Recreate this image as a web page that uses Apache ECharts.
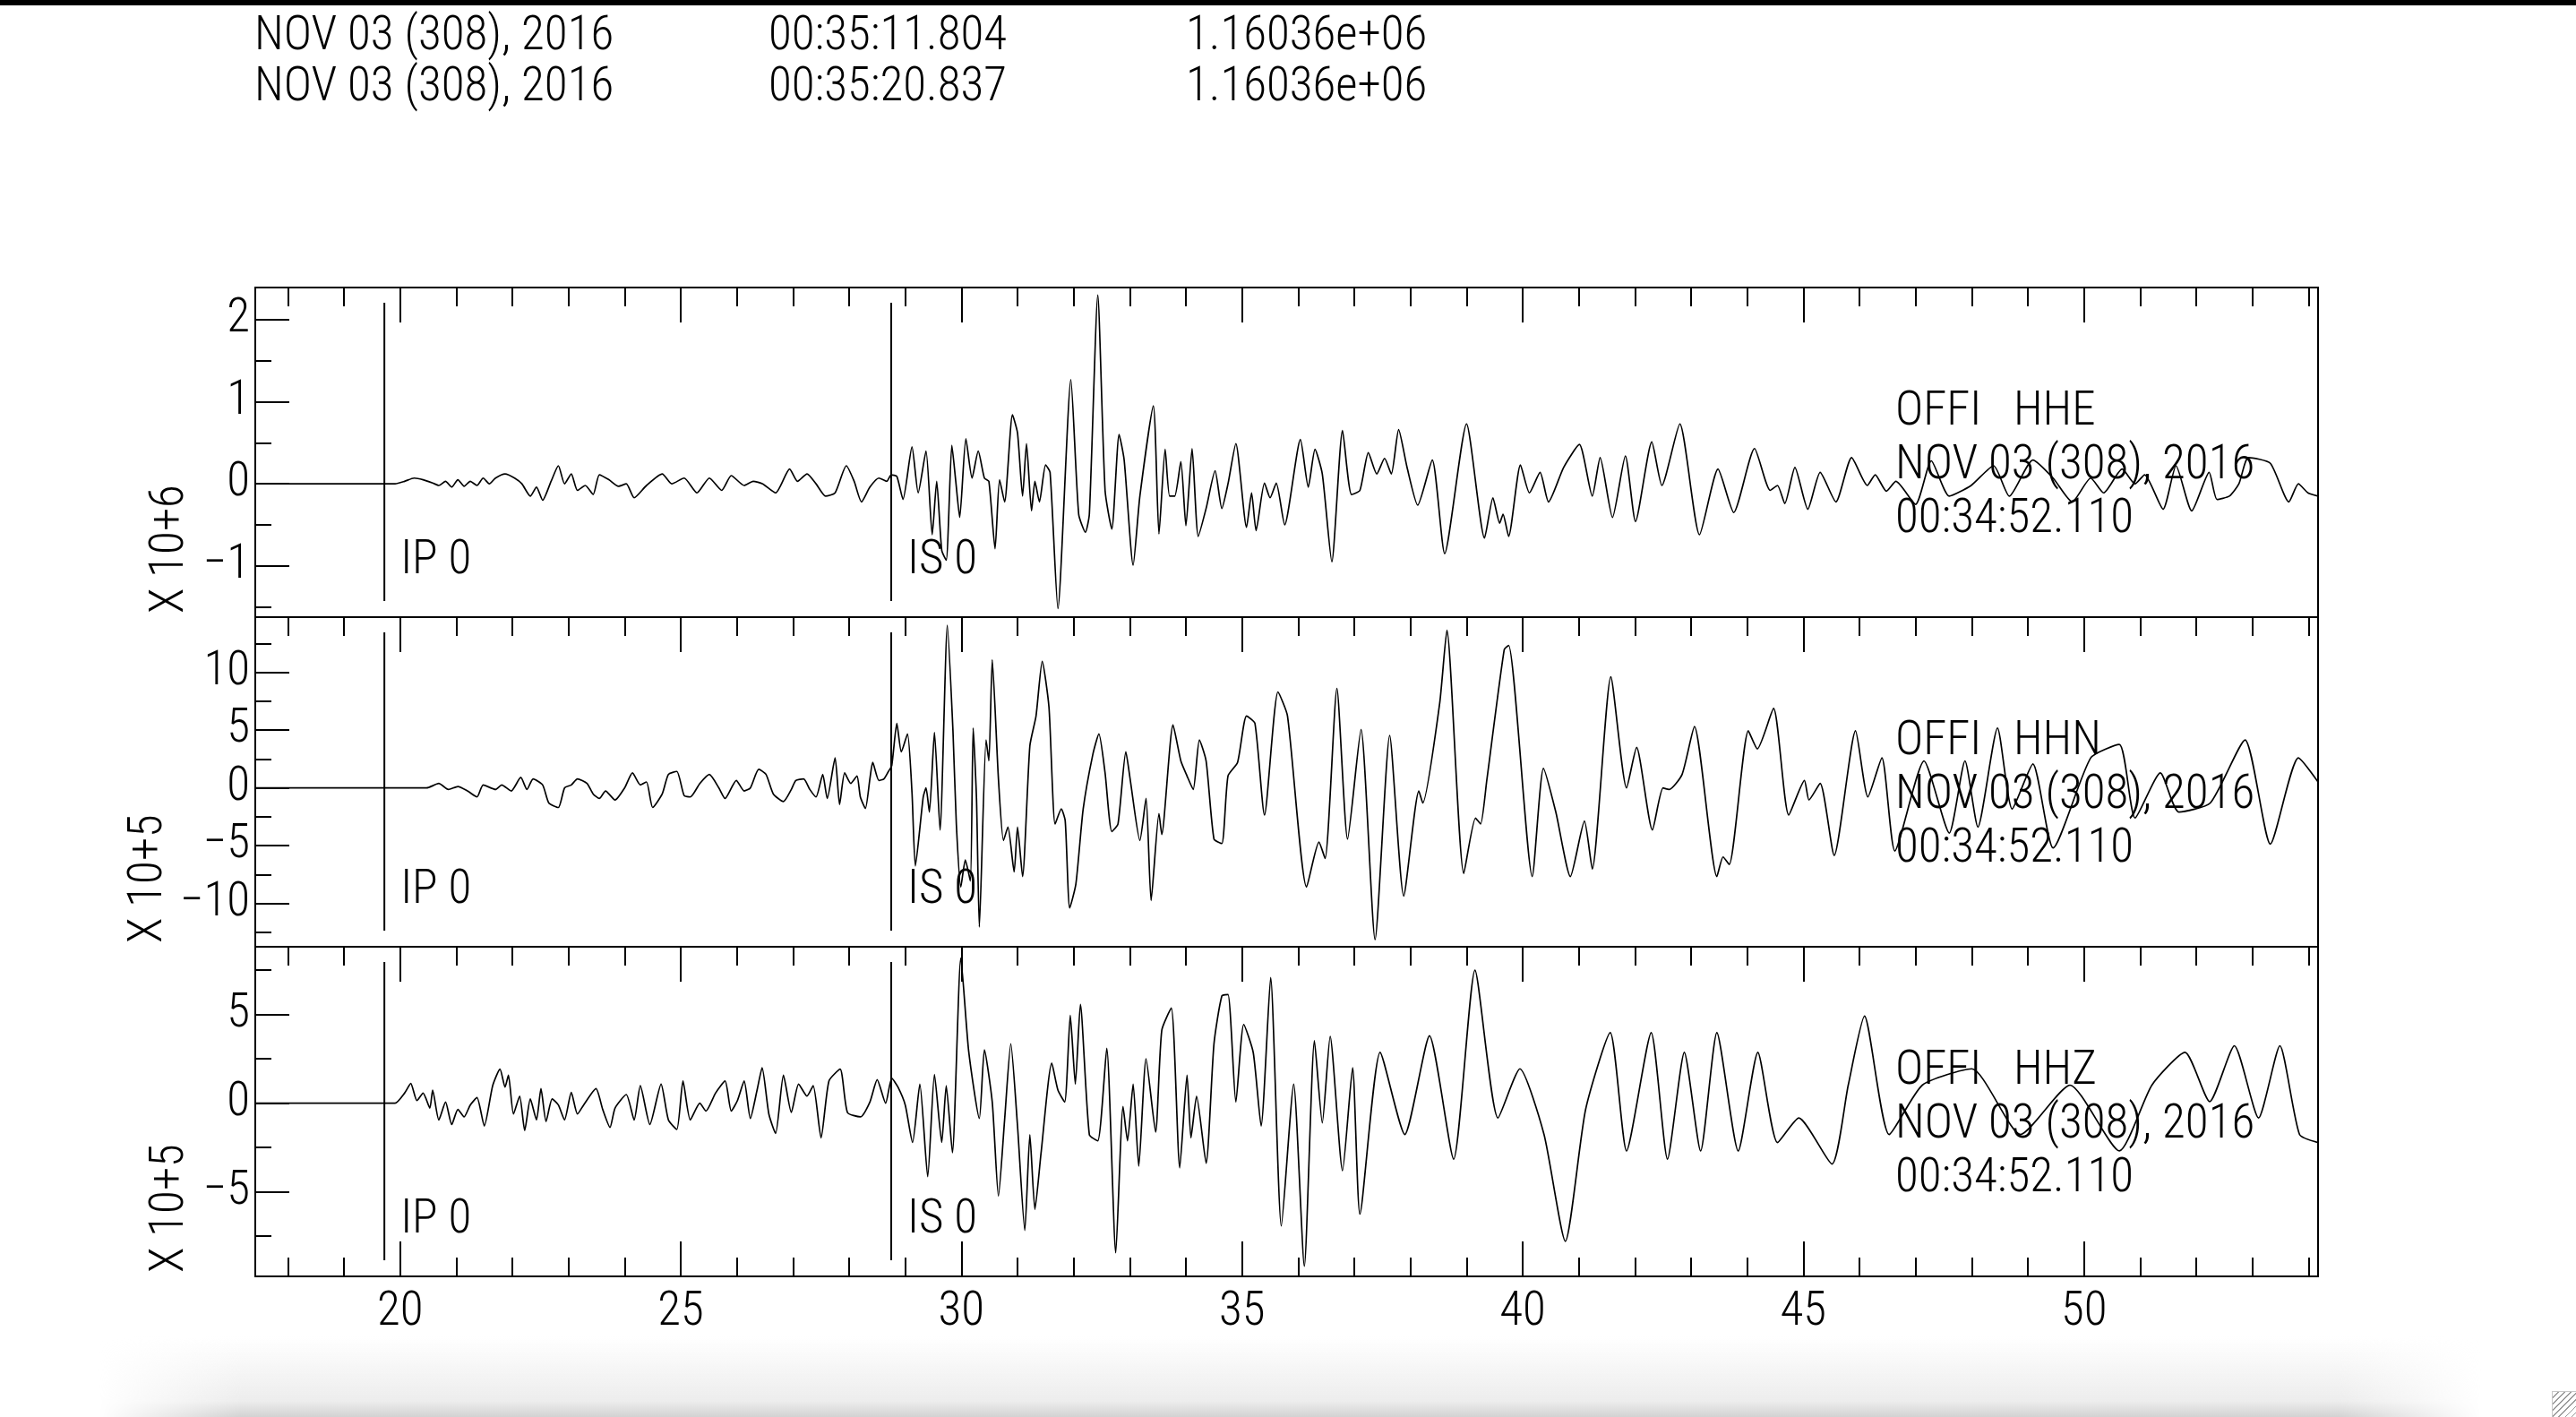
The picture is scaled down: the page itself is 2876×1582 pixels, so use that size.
<!DOCTYPE html>
<html><head><meta charset="utf-8">
<script src="https://cdn.jsdelivr.net/npm/echarts@6/dist/echarts.min.js"></script>
<style>
html,body{margin:0;padding:0;background:#fff;overflow:hidden}
#chart{position:absolute;left:0;top:0;width:2876px;height:1582px}
#topbar{position:absolute;left:0;top:0;width:2876px;height:6px;background:#000}
#bottomshade{position:absolute;left:110px;bottom:0;width:2660px;height:90px;
 background:linear-gradient(to bottom,rgba(236,236,236,0),#ededed 80%,#d2d2d2);
 -webkit-mask-image:linear-gradient(to right,transparent,#000 6%,#000 94%,transparent);
 mask-image:linear-gradient(to right,transparent,#000 6%,#000 94%,transparent)}
#grip{position:absolute;right:0;bottom:0;width:26px;height:28px;border:1px solid #c8c8c8;border-right:none;border-bottom:none;
 background:repeating-linear-gradient(135deg,#fff 0 4px,#9a9a9a 4px 5px)}
</style></head><body>
<div id="chart"></div><div id="topbar"></div><div id="bottomshade"></div><div id="grip"></div>
<script>
// ---------- data (time in s, amplitude in axis units) ----------
const headerRow1 = ['NOV 03 (308), 2016', '00:35:11.804', '1.16036e+06'];
const headerRow2 = ['NOV 03 (308), 2016', '00:35:20.837', '1.16036e+06'];
const stationHHE = ['OFFI   HHE', 'NOV 03 (308), 2016', '00:34:52.110'];
const stationHHN = ['OFFI   HHN', 'NOV 03 (308), 2016', '00:34:52.110'];
const stationHHZ = ['OFFI   HHZ', 'NOV 03 (308), 2016', '00:34:52.110'];
const scaleLabels = ['X 10+6', 'X 10+5', 'X 10+5'];
const pickNames = ['IP 0', 'IS 0'];
const pickTimes = [19.72, 28.75];
const xMajorTicks = [20, 25, 30, 35, 40, 45, 50];
const xMinorTicks = [18,19,21,22,23,24,26,27,28,29,31,32,33,34,36,37,38,39,41,42,43,44,46,47,48,49,51,52,53,54];
const yMajorHHE = [-1, 0, 1, 2];
const yMinorHHE = [-1.5, -0.5, 0.5, 1.5];
const yMajorHHN = [-10, -5, 0, 5, 10];
const yMinorHHN = [-12.5, -7.5, -2.5, 2.5, 7.5, 12.5];
const yMajorHHZ = [-5, 0, 5];
const yMinorHHZ = [-7.5, -2.5, 2.5, 7.5];

const traceHHE = [
[17.42,0],[19.57,0],[19.91,0],[20.08,0.03],[20.25,0.07],[20.41,0.05],[20.58,0.01],[20.69,-0.02],[20.81,0.03],[20.92,-0.04],
[21.03,0.05],[21.14,-0.03],[21.25,0.03],[21.37,-0.02],[21.48,0.07],[21.59,0],[21.70,0.07],[21.87,0.12],[22.04,0.07],[22.17,0],
[22.32,-0.15],[22.43,-0.04],[22.54,-0.2],[22.69,0.03],[22.82,0.22],[22.93,0],[23.05,0.12],[23.16,-0.08],[23.30,-0.02],[23.44,-0.13],
[23.55,0.11],[23.72,0.05],[23.89,-0.03],[24.03,0],[24.17,-0.17],[24.39,-0.02],[24.67,0.12],[24.84,0],[25.06,0.07],[25.29,-0.11],
[25.51,0.07],[25.73,-0.08],[25.90,0.1],[26.13,-0.02],[26.29,0.03],[26.46,0],[26.69,-0.11],[26.94,0.18],[27.08,0.03],[27.25,0.12],
[27.41,0],[27.58,-0.15],[27.75,-0.11],[27.95,0.22],[28.09,0.03],[28.22,-0.22],[28.37,-0.04],[28.53,0.07],[28.67,0.03],[28.75,0.11],
[28.85,0.09],[28.96,-0.19],[29.12,0.45],[29.23,-0.11],[29.37,0.40],[29.48,-0.62],[29.56,0.03],[29.65,-0.81],[29.73,-0.93],[29.83,0.47],
[29.90,0.03],[29.97,-0.41],[30.08,0.55],[30.19,0.07],[30.30,0.40],[30.41,0.07],[30.49,0.03],[30.60,-0.79],[30.68,0.05],[30.77,-0.22],
[30.91,0.84],[31.00,0.62],[31.09,-0.15],[31.16,0.49],[31.25,-0.33],[31.31,0.03],[31.39,-0.22],[31.50,0.23],[31.58,0.14],[31.72,-1.52],
[31.95,1.27],[32.09,-0.37],[32.21,-0.59],[32.28,-0.37],[32.43,2.30],[32.56,-0.08],[32.68,-0.55],[32.81,0.60],[32.90,0.29],[33.06,-0.99],
[33.18,-0.15],[33.42,0.95],[33.52,-0.61],[33.63,0.42],[33.71,-0.15],[33.80,-0.15],[33.91,0.27],[34.00,-0.51],[34.11,0.43],[34.22,-0.64],
[34.36,-0.30],[34.52,0.16],[34.64,-0.30],[34.75,0],[34.89,0.49],[35.08,-0.53],[35.17,-0.11],[35.25,-0.57],[35.40,0.01],[35.50,-0.17],
[35.61,0.01],[35.76,-0.50],[36.04,0.54],[36.18,-0.04],[36.30,0.42],[36.43,0.12],[36.60,-0.95],[36.79,0.65],[36.95,-0.13],[37.10,-0.08],
[37.25,0.38],[37.40,0.12],[37.54,0.31],[37.66,0.12],[37.79,0.66],[37.94,0.20],[38.13,-0.26],[38.39,0.29],[38.61,-0.85],[39.00,0.73],
[39.32,-0.66],[39.47,-0.17],[39.59,-0.48],[39.65,-0.37],[39.75,-0.64],[39.96,0.23],[40.12,-0.11],[40.31,0.14],[40.46,-0.22],[40.73,0.20],
[41.01,0.48],[41.24,-0.15],[41.38,0.32],[41.60,-0.41],[41.83,0.34],[42.01,-0.46],[42.30,0.51],[42.48,-0.02],[42.80,0.73],[43.15,-0.62],
[43.48,0.18],[43.76,-0.35],[44.13,0.43],[44.41,-0.08],[44.54,-0.02],[44.67,-0.24],[44.85,0.20],[45.08,-0.31],[45.30,0.14],[45.58,-0.22],
[45.86,0.32],[46.14,-0.02],[46.28,0.11],[46.48,-0.09],[46.65,0.03],[47.00,-0.25],[47.28,0.28],[47.60,-0.15],[47.99,-0.02],[48.39,0.22],
[48.67,-0.15],[49.09,0.29],[49.45,0.07],[49.79,-0.22],[50.12,0.07],[50.35,-0.11],[50.68,0.18],[50.91,0],[51.08,0.11],[51.41,-0.31],
[51.64,0.22],[51.92,-0.33],[52.23,0.14],[52.37,-0.19],[52.59,-0.15],[52.76,0],[52.93,0.32],[53.32,0.25],[53.65,-0.22],[53.82,0],
[53.99,-0.11],[54.17,-0.15]
];

const traceHHN = [
[17.42,0],[19.57,0],[20.47,0],[20.69,0.39],[20.86,-0.13],[21.03,0.13],[21.20,-0.26],[21.37,-0.78],[21.48,0.26],[21.70,-0.13],
[21.81,0.26],[21.98,-0.26],[22.15,0.91],[22.26,-0.13],[22.37,0.78],[22.54,0.26],[22.65,-1.30],[22.82,-1.69],[22.93,0],[23.05,0.26],
[23.16,0.78],[23.33,0.39],[23.44,-0.52],[23.55,-0.91],[23.66,-0.26],[23.83,-1.04],[24.00,0],[24.14,1.30],[24.28,0.26],[24.39,0.52],
[24.50,-1.69],[24.67,-0.52],[24.78,1.17],[24.93,1.43],[25.06,-0.65],[25.17,-0.78],[25.34,0.39],[25.51,1.17],[25.68,0],[25.79,-0.91],
[25.99,0.65],[26.13,-0.26],[26.24,0],[26.39,1.61],[26.52,1.17],[26.65,-0.52],[26.83,-1.17],[26.97,-0.13],[27.05,0.65],[27.19,0.78],
[27.30,-0.13],[27.41,-0.78],[27.53,1.17],[27.61,-0.91],[27.75,2.60],[27.83,-1.43],[27.92,1.30],[28.03,0.39],[28.14,1.04],[28.20,-0.78],
[28.29,-1.77],[28.37,0.78],[28.42,2.21],[28.53,0.65],[28.62,0.78],[28.70,1.43],[28.76,1.95],[28.85,5.58],[28.93,3.12],[29.04,4.68],
[29.12,-0.39],[29.18,-6.75],[29.32,-0.78],[29.37,0],[29.43,-2.08],[29.52,4.81],[29.62,-3.64],[29.75,14.08],[29.85,4.94],[29.91,-3.12],
[29.99,-8.57],[30.07,-6.23],[30.16,-8.05],[30.21,5.19],[30.27,-1.04],[30.32,-12.03],[30.44,4.16],[30.49,2.34],[30.55,11.09],[30.66,0.78],
[30.75,-4.55],[30.83,-3.38],[30.94,-7.27],[31.00,-3.38],[31.09,-7.66],[31.22,3.64],[31.33,6.23],[31.44,10.96],[31.56,7.01],[31.67,-3.12],
[31.78,-1.82],[31.85,-2.86],[31.93,-10.39],[32.04,-8.31],[32.17,-1.82],[32.34,2.86],[32.45,4.68],[32.56,1.30],[32.68,-3.77],[32.79,-3.12],
[32.93,3.12],[33.01,0.65],[33.18,-4.55],[33.29,-0.91],[33.38,-9.74],[33.52,-2.21],[33.57,-4.03],[33.77,5.45],[33.91,2.34],[34.02,1.04],
[34.13,-0.13],[34.24,4.16],[34.36,2.34],[34.50,-4.42],[34.64,-4.81],[34.75,1.04],[34.92,2.21],[35.08,6.23],[35.23,5.58],[35.40,-2.34],
[35.64,8.31],[35.81,6.23],[36.15,-8.57],[36.37,-4.68],[36.48,-6.10],[36.69,8.62],[36.88,-4.42],[37.12,5.06],[37.37,-13.12],[37.63,4.55],
[37.88,-9.35],[38.15,-0.26],[38.22,-1.30],[38.52,7.27],[38.65,13.64],[38.95,-7.40],[39.16,-2.60],[39.25,-3.12],[39.36,0.65],[39.67,11.95],
[39.75,12.34],[40.17,-7.66],[40.37,1.69],[40.59,-2.08],[40.85,-7.66],[41.10,-2.86],[41.24,-7.01],[41.57,9.61],[41.85,0],[42.03,3.51],
[42.31,-3.64],[42.50,0],[42.61,-0.13],[42.84,1.17],[43.06,5.32],[43.46,-7.66],[43.57,-5.97],[43.68,-6.62],[44.02,4.94],[44.18,3.38],
[44.47,6.88],[44.74,-2.34],[45.02,0.65],[45.10,-1.04],[45.30,0.39],[45.55,-5.84],[45.93,4.94],[46.15,-0.78],[46.40,2.60],[46.63,-5.45],
[47.15,2.34],[47.60,-3.90],[47.88,2.34],[48.11,-3.38],[48.46,5.19],[48.72,-1.82],[49.09,2.08],[49.45,-5.19],[50.12,2.60],[50.63,3.77],
[50.91,-2.60],[51.36,1.30],[51.69,-2.08],[52.25,-1.30],[52.87,4.16],[53.32,-4.86],[53.82,2.60],[54.17,0.52]
];

const traceHHZ = [
[17.42,0],[19.57,0],[19.91,0],[20.08,0.57],[20.19,1.11],[20.30,0.15],[20.41,0.57],[20.53,-0.27],[20.58,0.74],[20.69,-0.94],
[20.81,0.07],[20.92,-1.20],[21.03,-0.35],[21.14,-0.77],[21.25,-0.10],[21.37,0.32],[21.50,-1.28],[21.65,0.99],[21.78,1.92],[21.87,0.91],
[21.93,1.58],[22.02,-0.61],[22.13,0.40],[22.22,-1.53],[22.32,0.24],[22.43,-0.94],[22.51,0.82],[22.60,-1.03],[22.71,0.24],[22.82,-0.10],
[22.93,-0.94],[23.05,0.61],[23.16,-0.61],[23.27,-0.10],[23.49,0.82],[23.61,-0.35],[23.74,-1.36],[23.83,-0.27],[24.03,0.49],[24.17,-0.94],
[24.28,0.99],[24.45,-1.20],[24.65,1.08],[24.78,-0.94],[24.93,-1.48],[25.04,1.25],[25.17,-0.94],[25.34,0],[25.45,-0.44],[25.62,0.57],
[25.79,1.25],[25.90,-0.44],[26.01,0.15],[26.13,1.25],[26.24,-0.86],[26.36,0.74],[26.45,2.00],[26.57,-0.61],[26.69,-1.70],[26.83,1.58],
[26.97,-0.52],[27.10,1.08],[27.25,0.40],[27.36,0.99],[27.50,-1.95],[27.64,1.25],[27.84,1.92],[27.97,-0.52],[28.20,-0.77],[28.37,0.07],
[28.50,1.33],[28.65,0],[28.76,1.41],[28.87,0.91],[29.00,-0.10],[29.13,-2.21],[29.26,1.08],[29.40,-4.14],[29.52,1.62],[29.65,-2.21],
[29.73,0.99],[29.84,-2.79],[29.99,8.18],[30.13,2.93],[30.32,-0.86],[30.41,3.01],[30.55,0.07],[30.66,-5.24],[30.77,-0.94],[30.88,3.35],
[31.00,-1.28],[31.13,-7.17],[31.22,-1.78],[31.31,-5.99],[31.42,-2.79],[31.61,2.26],[31.72,0.74],[31.84,0.07],[31.94,4.95],[32.03,1.08],
[32.12,5.57],[32.28,-1.78],[32.43,-2.12],[32.59,3.10],[32.75,-8.43],[32.88,-0.19],[32.96,-2.12],[33.06,1.08],[33.16,-3.55],[33.29,2.51],
[33.46,-1.62],[33.57,4.11],[33.74,5.37],[33.89,-3.64],[34.02,1.58],[34.09,-1.95],[34.19,0.40],[34.36,-3.38],[34.50,3.35],[34.64,6.04],
[34.75,6.13],[34.89,0.07],[35.03,4.44],[35.20,2.85],[35.34,-1.28],[35.51,7.09],[35.70,-6.92],[35.92,1.08],[36.11,-9.19],[36.29,3.52],
[36.43,-1.11],[36.57,3.77],[36.79,-3.80],[36.97,2.00],[37.10,-6.25],[37.46,2.87],[37.90,-1.76],[38.34,3.80],[38.77,-3.15],[39.15,7.50],
[39.56,-0.83],[39.95,1.94],[40.38,-1.76],[40.76,-7.78],[41.12,-0.37],[41.56,3.98],[41.85,-2.69],[42.29,3.98],[42.58,-3.15],[42.88,2.87],
[43.17,-2.69],[43.46,3.98],[43.84,-2.69],[44.19,2.87],[44.54,-2.22],[44.92,-0.83],[45.51,-3.43],[45.80,1.02],[46.09,4.91],[46.53,-1.76],
[47.12,1.02],[48.00,1.94],[48.87,-1.76],[49.75,1.02],[50.63,-2.69],[51.21,1.02],[51.80,2.87],[52.24,0.09],[52.68,3.24],[53.11,-0.83],
[53.49,3.24],[53.84,-1.76],[54.17,-2.22]
];

// ---------- layout ----------
const X_MIN = 17.42, X_MAX = 54.17;
const FONT = '"Roboto Condensed", "DejaVu Sans Condensed", "Liberation Sans", sans-serif';
const FW = 300;
const FS = 53;
const panelTops = [321, 689, 1057];
const PANEL_H = 368;
const panelRanges = [[-1.624, 2.391], [-13.74, 14.78], [-9.76, 8.82]];
const panelMajors = [yMajorHHE, yMajorHHN, yMajorHHZ];
const panelMinors = [yMinorHHE, yMinorHHN, yMinorHHZ];
const panelTraces = [traceHHE, traceHHN, traceHHZ];
const panelStations = [stationHHE, stationHHN, stationHHZ];
const scaleLabelX = [191, 167, 191];

const tickStyle = {color: '#000', width: 2};
const fmtY = v => (v < 0 ? '\u2212' + Math.abs(v) : String(v));
const txt = (s, extra) => Object.assign({text: s, fontSize: FS, fontFamily: FONT, fontWeight: FW, fill: '#000',
  align: 'left', verticalAlign: 'middle'}, extra || {});

const option = {
  animation: false,
  backgroundColor: '#fff',
  grid: [], xAxis: [], yAxis: [], series: [], graphic: []
};

panelTops.forEach((top, i) => {
  option.grid.push({left: 285, right: 288, top: top, height: PANEL_H, show: true,
    borderColor: '#000', borderWidth: 2, backgroundColor: 'transparent', outerBoundsMode: 'none'});
  const xi = option.xAxis.length;
  const xBase = {type: 'value', gridIndex: i, min: X_MIN, max: X_MAX,
    axisLine: {show: false, onZero: false}, splitLine: {show: false}};
  option.xAxis.push(Object.assign({}, xBase, {position: 'top', axisLabel: {show: false},
    axisTick: {show: true, inside: true, length: 39, customValues: xMajorTicks, lineStyle: tickStyle}}));
  option.xAxis.push(Object.assign({}, xBase, {position: 'top', axisLabel: {show: false},
    axisTick: {show: true, inside: true, length: 21, customValues: xMinorTicks, lineStyle: tickStyle}}));
  if (i === panelTops.length - 1) {
    option.xAxis.push(Object.assign({}, xBase, {position: 'bottom',
      axisLabel: {show: true, customValues: xMajorTicks, margin: 14, fontSize: FS, fontFamily: FONT, fontWeight: FW, color: '#000'},
      axisTick: {show: true, inside: true, length: 39, customValues: xMajorTicks, lineStyle: tickStyle}}));
    option.xAxis.push(Object.assign({}, xBase, {position: 'bottom', axisLabel: {show: false},
      axisTick: {show: true, inside: true, length: 21, customValues: xMinorTicks, lineStyle: tickStyle}}));
  }
  const yi = option.yAxis.length;
  const yBase = {type: 'value', gridIndex: i, min: panelRanges[i][0], max: panelRanges[i][1], position: 'left',
    axisLine: {show: false, onZero: false}, splitLine: {show: false}};
  option.yAxis.push(Object.assign({}, yBase, {
    axisLabel: {show: true, customValues: panelMajors[i], margin: 6, fontSize: FS, fontFamily: FONT, fontWeight: FW, color: '#000', formatter: fmtY},
    axisTick: {show: true, inside: true, length: 38, customValues: panelMajors[i], lineStyle: tickStyle}}));
  option.yAxis.push(Object.assign({}, yBase, {axisLabel: {show: false},
    axisTick: {show: true, inside: true, length: 18, customValues: panelMinors[i], lineStyle: tickStyle}}));

  option.series.push({type: 'line', xAxisIndex: xi, yAxisIndex: yi, data: panelTraces[i],
    showSymbol: false, smooth: 0.2, silent: true, clip: true,
    lineStyle: {color: '#000', width: 1.7}});

  option.series.push({type: 'custom', xAxisIndex: xi, yAxisIndex: yi, silent: true,
    data: pickTimes.map(t => [t, 0]),
    renderItem: (params, api) => {
      const x = api.coord([api.value(0), 0])[0];
      const cs = params.coordSys;
      return {type: 'group', children: [
        {type: 'line', shape: {x1: x, y1: cs.y + 17, x2: x, y2: cs.y + cs.height - 18},
          style: {stroke: '#000', lineWidth: 2}},
        {type: 'text', x: x + 18, y: cs.y + 306, style: txt(pickNames[params.dataIndex])}
      ]};
    }});

  panelStations[i].forEach((s, k) => {
    option.graphic.push({type: 'text', x: 2116, y: top + 140 + 60 * k, silent: true, style: txt(s)});
  });
  option.graphic.push({type: 'text', x: scaleLabelX[i], y: top + PANEL_H - 4, rotation: Math.PI / 2, silent: true,
    style: txt(scaleLabels[i])});
});

const headerX = [284, 858, 1324];
[headerRow1, headerRow2].forEach((row, r) => {
  row.forEach((s, c) => {
    option.graphic.push({type: 'text', x: headerX[c], y: 42 + 57 * r, silent: true, style: txt(s)});
  });
});

const chart = echarts.init(document.getElementById('chart'), null, {renderer: 'canvas'});
chart.setOption(option);
</script></body></html>
